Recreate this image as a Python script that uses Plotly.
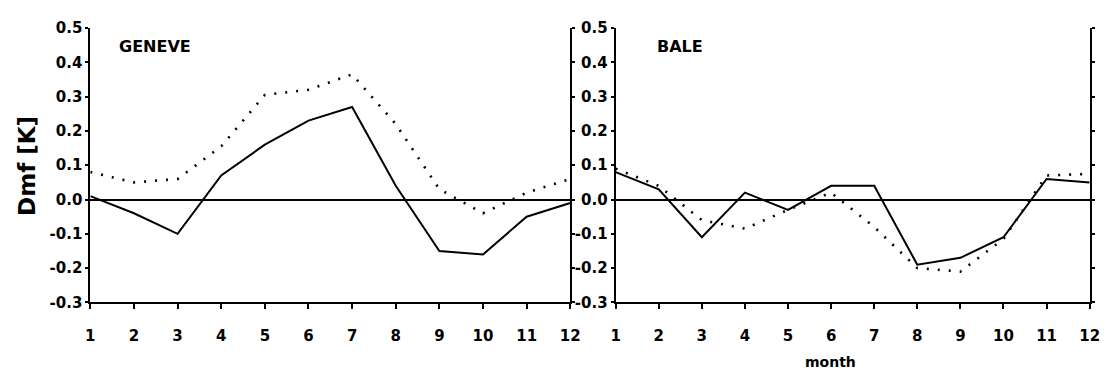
import plotly.graph_objects as go

months = list(range(1, 13))
month_ticks = [str(m) for m in months]

geneve_solid = [0.01, -0.04, -0.10, 0.07, 0.16, 0.23, 0.27, 0.04, -0.15, -0.16, -0.05, -0.01]
geneve_dotted = [0.08, 0.05, 0.06, 0.155, 0.305, 0.32, 0.365, 0.22, 0.03, -0.04, 0.02, 0.06]
bale_solid = [0.08, 0.03, -0.11, 0.02, -0.03, 0.04, 0.04, -0.19, -0.17, -0.11, 0.06, 0.05]
bale_dotted = [0.09, 0.04, -0.06, -0.085, -0.03, 0.02, -0.08, -0.20, -0.21, -0.115, 0.07, 0.075]

y_ticks = [-0.3, -0.2, -0.1, 0.0, 0.1, 0.2, 0.3, 0.4, 0.5]
y_tick_text = ["-0.3", "-0.2", "-0.1", "0.0", "0.1", "0.2", "0.3", "0.4", "0.5"]

FONT = "DejaVu Sans, Liberation Sans, sans-serif"
W, H = 1112, 380

fig = go.Figure()

solid = dict(color="black", width=2)
dotted = dict(color="black", width=2.6, dash="2px,9px")

fig.add_trace(go.Scatter(x=months, y=geneve_solid, mode="lines", line=solid,
                         xaxis="x", yaxis="y", showlegend=False))
fig.add_trace(go.Scatter(x=months, y=geneve_dotted, mode="lines", line=dotted,
                         xaxis="x", yaxis="y", showlegend=False))
fig.add_trace(go.Scatter(x=months, y=bale_solid, mode="lines", line=solid,
                         xaxis="x2", yaxis="y2", showlegend=False))
fig.add_trace(go.Scatter(x=months, y=bale_dotted, mode="lines", line=dotted,
                         xaxis="x2", yaxis="y2", showlegend=False))

tick_font = dict(family=FONT, size=15, color="black", weight="bold")

xcommon = dict(range=[1, 12], tickvals=months, ticktext=month_ticks,
               showgrid=False, zeroline=False, showline=True, linecolor="black",
               linewidth=2, ticks="outside", ticklen=5, tickwidth=2,
               tickcolor="black", tickfont=tick_font, ticklabelstandoff=14)
ycommon = dict(range=[-0.3, 0.5], tickvals=y_ticks, ticktext=y_tick_text,
               showgrid=False, zeroline=True, zerolinecolor="black",
               zerolinewidth=2, showline=True, linecolor="black", linewidth=2,
               mirror="ticks", ticks="outside", ticklen=3, tickwidth=2,
               tickcolor="black", tickfont=tick_font, ticklabelstandoff=0)

ydom = [(H - 308) / H, (H - 20) / H]

label_font = dict(family=FONT, size=16, color="black", weight="bold")

fig.update_layout(
    width=W, height=H,
    margin=dict(l=0, r=0, t=0, b=0),
    paper_bgcolor="white", plot_bgcolor="white",
    xaxis=dict(domain=[86.5 / W, 573 / W], anchor="y", **xcommon),
    yaxis=dict(domain=ydom, anchor="x", **ycommon),
    xaxis2=dict(domain=[619 / W, 1099.5 / W], anchor="y2", **xcommon),
    yaxis2=dict(domain=ydom, anchor="x2", **ycommon),
    annotations=[
        dict(text="GENEVE", x=1.6, y=0.445, xref="x", yref="y", xanchor="left",
             yanchor="middle", showarrow=False, font=label_font),
        dict(text="BALE", x=1.92, y=0.445, xref="x2", yref="y2", xanchor="left",
             yanchor="middle", showarrow=False, font=label_font),
        dict(text="Dmf [K]", x=22 / W, y=(H - 165) / H, xref="paper", yref="paper",
             textangle=-90, showarrow=False, xanchor="center", yanchor="middle",
             font=dict(family=FONT, size=23, color="black", weight="bold")),
        dict(text="month", x=837 / W, y=0, xref="paper", yref="paper",
             showarrow=False, xanchor="center", yanchor="bottom", yshift=-1,
             font=dict(family=FONT, size=14, color="black", weight="bold")),
    ],
)

fig.write_html("out.html")
